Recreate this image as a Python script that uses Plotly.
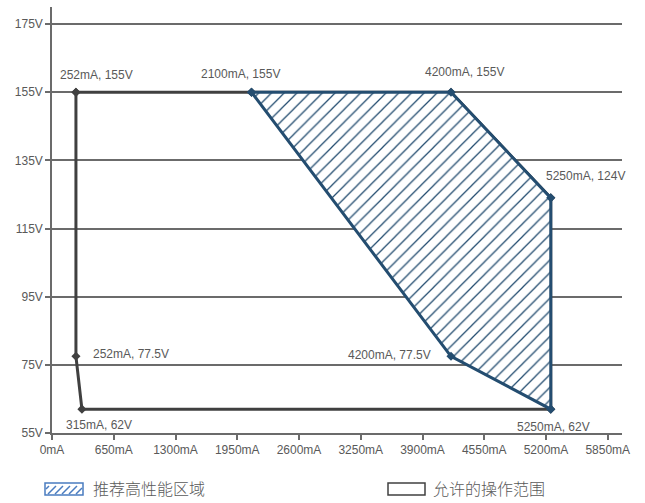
import plotly.graph_objects as go

# Data
allowed_x = [252, 2100, 4200, 5250, 5250, 315, 252, 252]
allowed_y = [155, 155, 155, 124, 62, 62, 77.5, 155]
recommended_x = [2100, 4200, 5250, 5250, 4200, 2100]
recommended_y = [155, 155, 124, 62, 77.5, 155]
label_points_x = [252, 2100, 4200, 5250, 252, 4200, 315, 5250]
label_points_y = [155, 155, 155, 124, 77.5, 77.5, 62, 62]
label_texts = ["252mA, 155V", "2100mA, 155V", "4200mA, 155V", "5250mA, 124V",
               "252mA, 77.5V", "4200mA, 77.5V", "315mA, 62V", "5250mA, 62V"]
x_ticks = [0, 650, 1300, 1950, 2600, 3250, 3900, 4550, 5200, 5850]
x_tick_labels = [f"{v}mA" for v in x_ticks]
y_ticks = [55, 75, 95, 115, 135, 155, 175]
y_tick_labels = [f"{v}V" for v in y_ticks]
series_names = ["推荐高性能区域", "允许的操作范围"]

GRAY = "#404040"
BLUE = "#244d70"
LEG_BLUE = "#4a7cc0"
TXT = "#595959"
GRID = "#6b6b6b"
FONT = "Liberation Sans, Arial, sans-serif"

W, H = 645, 503
ML, MR, MT, MB = 52, 23, 7, 70
PW, PH = W - ML - MR, H - MT - MB


def px_x(p):
    return (p - ML) / PW


def px_y(p):
    return (H - MB - p) / PH


fig = go.Figure()

fig.add_trace(go.Scatter(
    x=allowed_x, y=allowed_y, mode="lines+markers", name=series_names[1],
    line=dict(color=GRAY, width=3), marker=dict(symbol="diamond", size=7, color=GRAY),
    showlegend=False))
fig.add_trace(go.Scatter(
    x=recommended_x, y=recommended_y, mode="lines+markers", name=series_names[0],
    fill="toself", fillcolor="white",
    fillpattern=dict(shape="/", fgcolor=BLUE, fgopacity=1, bgcolor="white", size=9,
                     solidity=0.14),
    line=dict(color=BLUE, width=3), marker=dict(symbol="diamond", size=7, color=BLUE),
    showlegend=False))

# legend entries (icons drawn as shapes below)
fig.add_trace(go.Scatter(x=[None], y=[None], mode="lines", name=series_names[0],
                         line=dict(color=LEG_BLUE, width=0), legend="legend"))
fig.add_trace(go.Scatter(x=[None], y=[None], mode="lines", name=series_names[1],
                         line=dict(color=GRAY, width=0), legend="legend2"))

# legend icons
ix0, ix1, iy0, iy1 = 45, 83, 483, 495
fig.add_shape(type="rect", xref="paper", yref="paper",
              x0=px_x(ix0), x1=px_x(ix1), y0=px_y(iy1), y1=px_y(iy0),
              line=dict(color=LEG_BLUE, width=1.5), fillcolor="white")
hatch = ""
for s in range(ix0 + 2, ix1 + 4, 7):
    xa, xb = s - 6, s + 2
    hatch += f"M{px_x(max(xa, ix0 + 1))},{px_y(iy1 - 1 - (max(xa, ix0 + 1) - xa))} "
    xe = min(xb, ix1 - 1)
    hatch += f"L{px_x(xe)},{px_y(iy1 - 1 - (xe - xa))} "
fig.add_shape(type="path", xref="paper", yref="paper", path=hatch,
              line=dict(color=LEG_BLUE, width=1.5))
jx0, jx1 = 388, 425
fig.add_shape(type="rect", xref="paper", yref="paper",
              x0=px_x(jx0), x1=px_x(jx1), y0=px_y(iy1), y1=px_y(iy0),
              line=dict(color=GRAY, width=1.5), fillcolor="white")

# labels: (xanchor, xshift, yshift)
placements = [
    ("center", 21, 17),
    ("center", -11, 18),
    ("center", 13, 20),
    ("center", 35, 22),
    ("left", 15, 2),
    ("right", -18, 1),
    ("center", 17, -16),
    ("center", 3, -18),
]
for px, py, t, (xa, xs, ys) in zip(label_points_x, label_points_y, label_texts, placements):
    fig.add_annotation(x=px, y=py, text=t, showarrow=False, xanchor=xa, yanchor="middle",
                       xshift=xs, yshift=ys, font=dict(family=FONT, size=12, color=TXT))

leg_font = dict(family="Noto Sans CJK SC", size=16, color=TXT, weight=300)
fig.update_layout(
    width=W, height=H,
    margin=dict(l=ML, r=MR, t=MT, b=MB, autoexpand=False),
    plot_bgcolor="white", paper_bgcolor="white",
    font=dict(family=FONT, size=12, color=TXT),
    legend=dict(orientation="h", x=px_x(53), y=px_y(489), xanchor="left", yanchor="middle",
                font=leg_font, bgcolor="rgba(0,0,0,0)"),
    legend2=dict(orientation="h", x=px_x(393), y=px_y(489), xanchor="left", yanchor="middle",
                 font=leg_font, bgcolor="rgba(0,0,0,0)"),
    xaxis=dict(range=[0, 6000], tickvals=x_ticks, ticktext=x_tick_labels,
               showgrid=False, zeroline=False, showline=True, linecolor=GRID, linewidth=1.5,
               ticks="outside", ticklen=5, tickcolor=GRID, tickwidth=1.5),
    yaxis=dict(range=[55, 180], tickvals=y_ticks, ticktext=y_tick_labels,
               showgrid=True, gridcolor=GRID, gridwidth=1.5, zeroline=False,
               showline=True, linecolor=GRID, linewidth=1.5,
               ticks="outside", ticklen=5, tickcolor=GRID, tickwidth=1.5),
)

fig.write_html("out.html", post_script="document.body.style.margin='0';",
               config={"displayModeBar": False})
